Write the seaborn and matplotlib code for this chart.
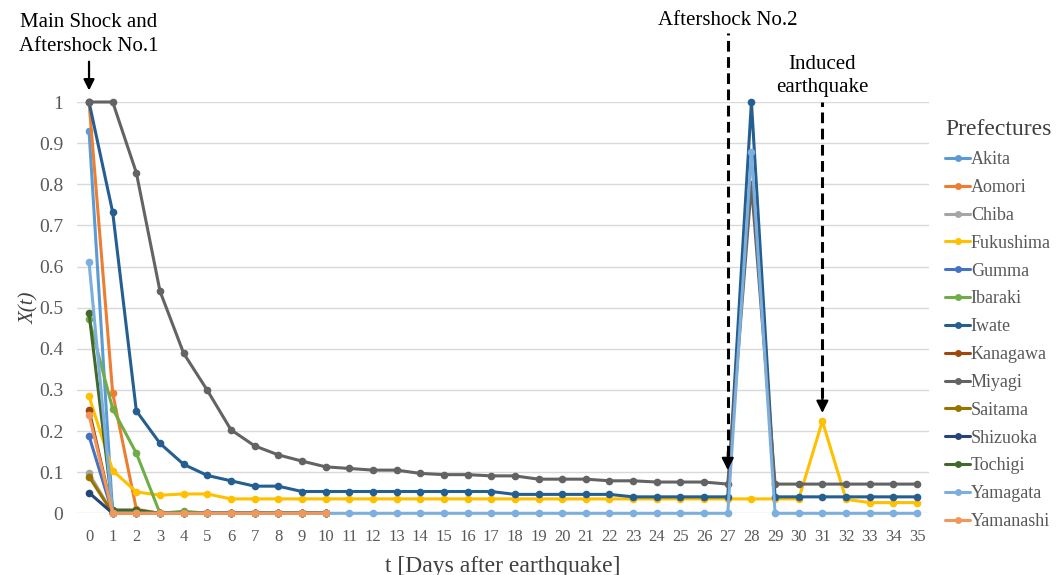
import numpy as np
import pandas as pd
import seaborn as sns
import matplotlib.pyplot as plt
from matplotlib.lines import Line2D

# Data (days 0..35, shorter lists = no data after day 10)
days = list(range(0, 36))
prefectures = ['Akita', 'Aomori', 'Chiba', 'Fukushima', 'Gumma', 'Ibaraki', 'Iwate',
               'Kanagawa', 'Miyagi', 'Saitama', 'Shizuoka', 'Tochigi', 'Yamagata', 'Yamanashi']
colors = ['#5B9BD5', '#ED7D31', '#A5A5A5', '#FFC000', '#4472C4', '#70AD47', '#255E91',
          '#9E480E', '#636363', '#997300', '#264478', '#43682B', '#7CAFDD', '#F1975A']

akita = [0.93, 0, 0, 0, 0, 0, 0, 0, 0, 0, 0]
aomori = [1.0, 0.292, 0.01, 0, 0, 0, 0, 0, 0, 0, 0]
chiba = [0.097, 0, 0, 0, 0, 0, 0, 0, 0, 0, 0]
fukushima = [0.284, 0.104, 0.052, 0.044, 0.047, 0.047, 0.035, 0.035, 0.035, 0.035, 0.035,
             0.035, 0.035, 0.035, 0.035, 0.035, 0.035, 0.035, 0.035, 0.035, 0.035, 0.035,
             0.035, 0.035, 0.035, 0.035, 0.035, 0.035, 0.035, 0.035, 0.035, 0.224, 0.034,
             0.026, 0.026, 0.026]
gumma = [0.188, 0, 0, 0, 0, 0, 0, 0, 0, 0, 0]
ibaraki = [0.473, 0.254, 0.146, 0, 0.005, 0, 0, 0, 0, 0, 0]
iwate = [1.0, 0.732, 0.249, 0.170, 0.119, 0.092, 0.079, 0.066, 0.066, 0.053, 0.053,
         0.053, 0.053, 0.053, 0.053, 0.053, 0.053, 0.053, 0.046, 0.046, 0.046, 0.046,
         0.046, 0.040, 0.040, 0.040, 0.040, 0.040, 1.0, 0.040, 0.040, 0.040, 0.040,
         0.040, 0.040, 0.040]
kanagawa = [0.251, 0, 0, 0, 0, 0, 0, 0, 0, 0, 0]
miyagi = [1.0, 1.0, 0.828, 0.540, 0.389, 0.299, 0.203, 0.164, 0.142, 0.127, 0.113,
          0.109, 0.105, 0.105, 0.097, 0.094, 0.094, 0.091, 0.091, 0.083, 0.083, 0.083,
          0.079, 0.079, 0.076, 0.076, 0.076, 0.071, 0.80, 0.071, 0.071, 0.071, 0.071,
          0.071, 0.071, 0.071]
saitama = [0.089, 0, 0, 0, 0, 0, 0, 0, 0, 0, 0]
shizuoka = [0.050, 0, 0, 0, 0, 0, 0, 0, 0, 0, 0]
tochigi = [0.486, 0.008, 0.008, 0, 0, 0, 0, 0, 0, 0, 0]
yamagata = [0.610, 0, 0, 0, 0, 0, 0, 0, 0, 0, 0, 0, 0, 0, 0, 0, 0, 0, 0, 0, 0, 0, 0,
            0, 0, 0, 0, 0, 0.879, 0, 0, 0, 0, 0, 0, 0]
yamanashi = [0.239, 0, 0, 0, 0, 0, 0, 0, 0, 0, 0]

series = [akita, aomori, chiba, fukushima, gumma, ibaraki, iwate,
          kanagawa, miyagi, saitama, shizuoka, tochigi, yamagata, yamanashi]

rows = []
for name, vals in zip(prefectures, series):
    for d, v in zip(days, vals):
        rows.append({'Day': d, 'X': v, 'Prefecture': name})
df = pd.DataFrame(rows)

sns.set_style('white')
plt.rcParams['font.family'] = ['Liberation Serif', 'DejaVu Serif']

fig = plt.figure(figsize=(10.59, 5.75), dpi=100)
ax = fig.add_axes([0.0729, 0.1073, 0.8042, 0.7153])

for name, col in zip(prefectures, colors):
    sub = df[df['Prefecture'] == name]
    sns.lineplot(data=sub, x='Day', y='X', color=col, marker='o', markersize=5.5,
                 markeredgewidth=0, linewidth=2.2, label=name, ax=ax, clip_on=False)

ax.set_xlim(-0.5, 35.5)
ax.set_ylim(0, 1)
ax.set_xticks(days)
ax.set_yticks(np.arange(0, 1.01, 0.1))
ax.set_yticklabels(['0', '0.1', '0.2', '0.3', '0.4', '0.5', '0.6', '0.7', '0.8', '0.9', '1'])
ax.tick_params(axis='x', labelsize=12, colors='#595959', length=0, pad=11)
ax.tick_params(axis='y', labelsize=14, colors='#595959', length=0, pad=10)
ax.yaxis.grid(True, color='#D9D9D9', linewidth=1)
ax.set_axisbelow(True)
for s in ax.spines.values():
    s.set_visible(False)

ax.set_xlabel('t [Days after earthquake]', fontsize=17, color='#404040', labelpad=8)
ax.set_ylabel('X(t)', fontsize=15, color='#404040', style='italic', labelpad=0)

# Annotations
ax.text(0, 1.113, 'Main Shock and\nAftershock No.1', ha='center', va='bottom',
        fontsize=15, color='black', linespacing=1.3)
ax.annotate('', xy=(0, 1.028), xytext=(0, 1.098), annotation_clip=False,
            arrowprops=dict(arrowstyle='-|>', color='black', lw=1.6, mutation_scale=16,
                            shrinkA=0, shrinkB=0))

ax.text(27, 1.197, 'Aftershock No.2', ha='center', va='center', fontsize=15, color='black')
ax.vlines(27, 0.14, 1.168, colors='black', linestyles=(0, (3.5, 1.8)), linewidth=2.2,
          clip_on=False)
ax.annotate('', xy=(27, 0.105), xytext=(27, 0.15), annotation_clip=False,
            arrowprops=dict(arrowstyle='-|>', color='black', lw=1.5, mutation_scale=18,
                            shrinkA=0, shrinkB=0))

ax.text(31, 1.063, 'Induced\nearthquake', ha='center', va='center', fontsize=15,
        color='black', linespacing=1.3)
ax.vlines(31, 0.28, 1.0, colors='black', linestyles=(0, (3.5, 1.8)), linewidth=2.2,
          clip_on=False)
ax.annotate('', xy=(31, 0.244), xytext=(31, 0.29), annotation_clip=False,
            arrowprops=dict(arrowstyle='-|>', color='black', lw=1.5, mutation_scale=18,
                            shrinkA=0, shrinkB=0))

# Legend
handles = [Line2D([], [], color=c, marker='o', markersize=5, markeredgewidth=0, linewidth=2.2)
           for c in colors]
ax.get_legend().remove()
leg = fig.legend(handles, prefectures, title='Prefectures', loc='upper left',
                 bbox_to_anchor=(0.886, 0.805), frameon=False, fontsize=13,
                 title_fontsize=17, labelspacing=0.6, handlelength=1.35,
                 handletextpad=0.05, borderaxespad=0, alignment='left')
for t in leg.get_texts():
    t.set_color('#595959')
leg.get_title().set_color('#404040')

fig.savefig('out.png', dpi=100)
